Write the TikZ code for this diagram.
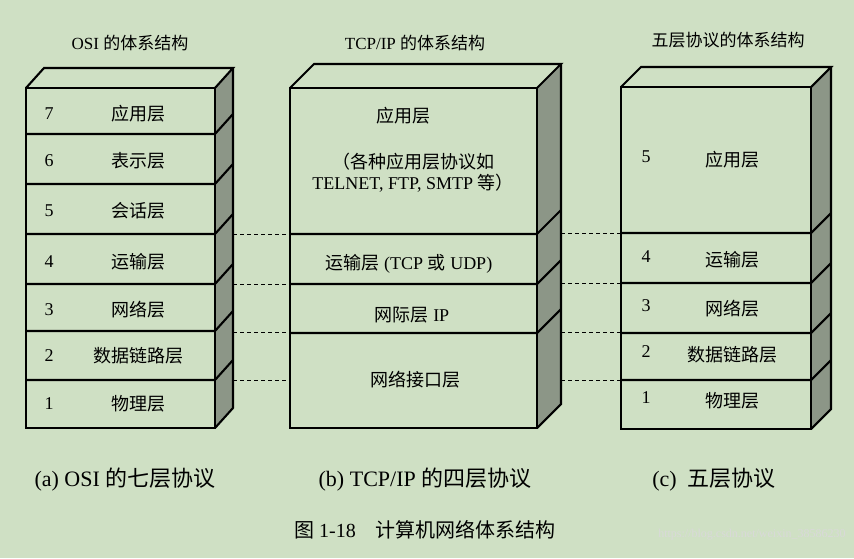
\documentclass[tikz,border=0pt]{standalone}
\usepackage{fontspec}
\setmainfont{Liberation Serif}
\newfontfamily\cjk{Noto Sans CJK SC}
\definecolor{bgc}{RGB}{207,224,196}
\definecolor{sidec}{RGB}{140,150,135}
\begin{document}
\begin{tikzpicture}[x=1pt,y=-1pt,line width=2.1pt,line join=miter,
  lay/.style={font=\fontsize{18}{21}\selectfont},
  ttl/.style={font=\fontsize{17}{20}\selectfont},
  capt/.style={font=\fontsize{22}{25}\selectfont},
  dsh/.style={dashed,line width=1pt,dash pattern=on 4pt off 3pt}]
\fill[bgc] (0,0) rectangle (854,558);
\useasboundingbox (0,0) rectangle (854,558);
\newcommand\mystack[7]{%
  \fill[sidec] (#2,#3) -- ++(#5,-#6) -- (#2+#5,#4-#6) -- (#2,#4) -- cycle;
  \draw (#1,#4) rectangle (#2,#3);
  \draw (#1,#3) -- ++(#5,-#6) -- (#2+#5,#3-#6) -- (#2,#3);
  \draw (#2+#5,#3-#6) -- (#2+#5,#4-#6) -- (#2,#4);
  \foreach \yy in {#7} {\draw (#1,\yy) -- (#2,\yy) -- ++(#5,-#6);}
}
\mystack{26}{215}{88}{428}{18}{20}{134,184,234,284,331,380}
\mystack{290}{537}{88}{428}{24}{24}{234,284,333}
\mystack{621}{811}{87}{429}{20}{20}{233,283,333,380}
\foreach \yy in {234,284,332,380} \draw[dsh] (233,\yy) -- (290,\yy);
\foreach \yy in {233,283,332,380} \draw[dsh] (561,\yy) -- (621,\yy);
\node[ttl] (t1) at (130,43) {OSI {\cjk 的体系结构}};
\node[ttl] (t2) at (415,43) {TCP/IP {\cjk 的体系结构}};
\node[ttl] (t3) at (728,40) {\cjk 五层协议的体系结构};
\foreach \n/\t/\yy in {7/应用层/114,6/表示层/161,5/会话层/211,4/运输层/262,3/网络层/310,2/数据链路层/356,1/物理层/404}{
  \node[lay] (o\n) at (49,\yy) {\n};
  \node[lay] (on\n) at (138,\yy) {\cjk \t};
}
\node[lay] (p1) at (403,116) {\cjk 应用层};
\node[lay,align=center] (p2) at (413,173) {{\cjk （各种应用层协议如}\\TELNET, FTP, SMTP {\cjk 等）}};
\node[lay] (p3) at (409,264) {{\cjk 运输层} (TCP {\cjk 或} UDP)};
\node[lay] (p4) at (412,315) {{\cjk 网际层} IP};
\node[lay] (p5) at (415,380) {\cjk 网络接口层};
\foreach \n/\t/\yy in {5/应用层/160,4/运输层/260,3/网络层/309,2/数据链路层/355,1/物理层/401}{
  \node[lay] (f\n) at (646,\yy-3) {\n};
  \node[lay] (fn\n) at (732,\yy) {\cjk \t};
}
\node[capt] (c1) at (125,480) {(a) OSI {\cjk 的七层协议}};
\node[capt] (c2) at (425,480) {(b) TCP/IP {\cjk 的四层协议}};
\node[capt] (c3) at (714,480) {(c)\ \ {\cjk 五层协议}};
\node[font=\fontsize{20}{23}\selectfont] (c4) at (425,530) {{\cjk 图} 1-18\quad {\cjk 计算机网络体系结构}};
\node[font=\fontsize{12}{14}\selectfont,text=white!70!gray,anchor=east] (wm) at (850,535) {https://blog.csdn.net/weixin\_38586230};
\end{tikzpicture}
\end{document}
